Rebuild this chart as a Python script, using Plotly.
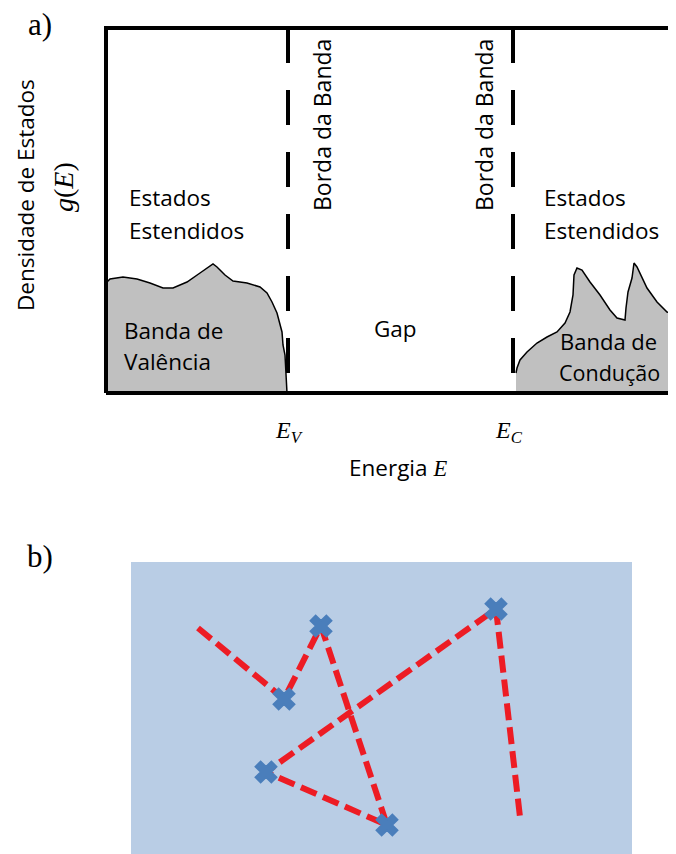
import plotly.graph_objects as go

# ---------------- data (pixel-space diagram units) ----------------
box_x = [106, 106, 676]
box_top = [393, 28, 28]
bottom_x = [106, 676]
bottom_y = [393, 393]

edge_E = [288, 513]          # E_V, E_C band edges
edge_y = [28, 393]

valence_E = [106, 110, 123, 137, 150, 163, 173, 187, 200, 213, 217, 225, 233, 247,
             260, 267, 272, 277, 282, 283, 285, 286, 287]
valence_g = [283, 279, 277, 279, 283, 288, 288, 282, 273, 264, 267, 275, 281, 283,
             287, 293, 302, 313, 332, 345, 355, 382, 392]

conduction_E = [516, 517, 520, 527, 537, 547, 557, 565, 570, 573, 574, 577, 582, 590,
                600, 610, 617, 625, 626, 628, 632, 634, 637, 642, 647, 657, 667, 676]
conduction_g = [373, 368, 360, 352, 343, 337, 332, 323, 312, 295, 275, 268, 270, 282,
                295, 310, 318, 320, 308, 292, 278, 263, 267, 277, 288, 302, 312, 314]

hop_x = [198, 284, 321, 387, 266, 496, 520]
hop_y = [628, 699, 626, 825, 772, 609, 817]
site_x = hop_x[1:-1]
site_y = hop_y[1:-1]

panel_b_x = [131, 632]
panel_b_y = [562, 854]

SANS = "Open Sans"
SERIF = "Liberation Serif"
FS = 22.5

fig = go.Figure()

# panel b background
fig.add_trace(go.Scatter(
    x=[panel_b_x[0], panel_b_x[1], panel_b_x[1], panel_b_x[0], panel_b_x[0]],
    y=[panel_b_y[0], panel_b_y[0], panel_b_y[1], panel_b_y[1], panel_b_y[0]],
    mode="lines", fill="toself", fillcolor="#b9cde5", line=dict(width=0),
    hoverinfo="skip"))

# valence band
fig.add_trace(go.Scatter(
    x=valence_E + [valence_E[-1], valence_E[0]],
    y=valence_g + [bottom_y[0], bottom_y[0]],
    mode="lines", fill="toself", fillcolor="#c0c0c0",
    line=dict(color="black", width=1.5), hoverinfo="skip"))

# conduction band
fig.add_trace(go.Scatter(
    x=conduction_E + [conduction_E[-1], conduction_E[0]],
    y=conduction_g + [bottom_y[0], bottom_y[0]],
    mode="lines", fill="toself", fillcolor="#c0c0c0",
    line=dict(color="black", width=1.5), hoverinfo="skip"))

# band edge dashed lines
for e in edge_E:
    fig.add_trace(go.Scatter(x=[e, e], y=edge_y, mode="lines",
                             line=dict(color="black", width=4, dash="35px,27px"),
                             hoverinfo="skip"))

# box frame
fig.add_trace(go.Scatter(x=box_x, y=box_top, mode="lines",
                         line=dict(color="black", width=4), hoverinfo="skip"))
fig.add_trace(go.Scatter(x=bottom_x, y=bottom_y, mode="lines",
                         line=dict(color="black", width=4), hoverinfo="skip"))

# hopping path
fig.add_trace(go.Scatter(x=hop_x, y=hop_y, mode="lines",
                         line=dict(color="#ed1c24", width=6, dash="17px,7px"),
                         hoverinfo="skip"))
fig.add_trace(go.Scatter(x=site_x, y=site_y, mode="markers",
                         marker=dict(symbol="x", size=19, color="#4a7ebb",
                                     line=dict(width=1.5, color="#4a7ebb")),
                         hoverinfo="skip"))

labels = [
    ("a)", 40, 24, SERIF, 31, 0, "center"),
    ("b)", 40, 556, SERIF, 31, 0, "center"),
    ("Densidade de Estados", 25, 195, SANS, FS, -90, "center"),
    ("<i>g</i>(<i>E</i>)", 63, 187, SERIF, 28, -90, "center"),
    ("Estados", 127, 197, SANS, FS, 0, "left"),
    ("Estendidos", 127, 230, SANS, FS, 0, "left"),
    ("Estados", 542, 197, SANS, FS, 0, "left"),
    ("Estendidos", 542, 230, SANS, FS, 0, "left"),
    ("Borda da Banda", 322, 125, SANS, 23, -90, "center"),
    ("Borda da Banda", 484, 125, SANS, 23, -90, "center"),
    ("Banda de", 122, 330, SANS, FS, 0, "left"),
    ("Valência", 122, 361, SANS, FS, 0, "left"),
    ("Gap", 395, 328, SANS, FS, 0, "center"),
    ("Banda de", 558, 341, SANS, 22, 0, "left"),
    ("Condução", 557, 372, SANS, 21.5, 0, "left"),
    ("<i>E</i><sub><i>V</i></sub>", 289, 432, SERIF, 24, 0, "center"),
    ("<i>E</i><sub><i>C</i></sub>", 509, 432, SERIF, 24, 0, "center"),
    ("Energia <i><span style='font-family:Liberation Serif'>E</span></i>", 398, 467, SANS, FS, 0, "center"),
]
for text, x, y, fam, size, ang, anc in labels:
    fig.add_annotation(x=x, y=y, xref="x", yref="y", text=text, showarrow=False,
                       xanchor=anc, yanchor="middle", textangle=ang,
                       font=dict(family=fam, size=size, color="black"))

# page body has an 8px margin: shift the axis window so diagram units = page pixels
fig.update_layout(
    width=668, height=846, margin=dict(l=0, r=0, t=0, b=0),
    paper_bgcolor="white", plot_bgcolor="white", showlegend=False,
    xaxis=dict(range=[8, 676], visible=False, fixedrange=True),
    yaxis=dict(range=[854, 8], visible=False, fixedrange=True),
)

fig.write_html("out.html")
